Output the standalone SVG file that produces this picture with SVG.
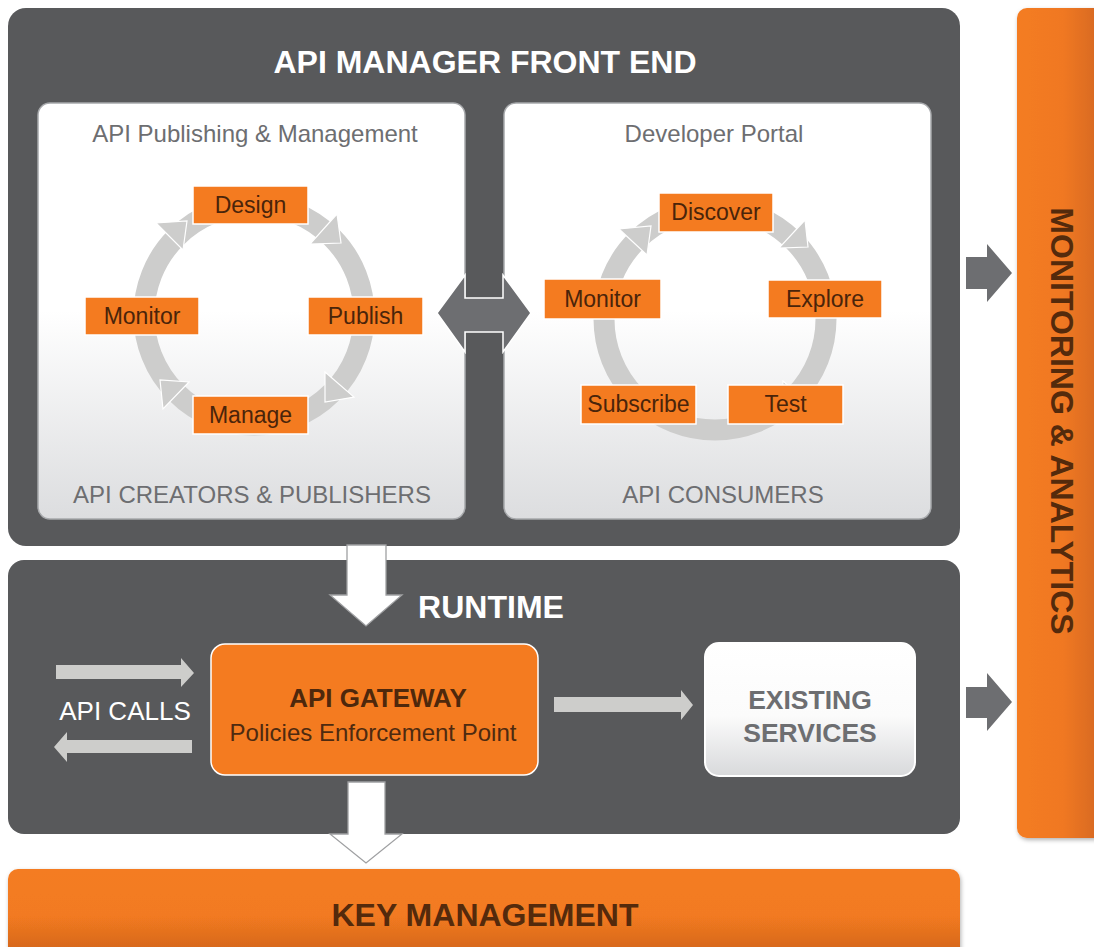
<svg xmlns="http://www.w3.org/2000/svg" width="1094" height="947" viewBox="0 0 1094 947">
<defs>
<style>
.dark{fill:#58595b}
.panel{stroke:#a7a9ac;stroke-width:1.5}
.box{fill:#f47b20;stroke:#ffffff;stroke-width:1.5}
.bt{font-family:"Liberation Sans",Arial,sans-serif;font-size:23px;fill:#4a240a;text-anchor:middle}
.pt{font-family:"Liberation Sans",Arial,sans-serif;font-size:24px;fill:#6d6e71;text-anchor:middle}
.title{font-family:"Liberation Sans",Arial,sans-serif;font-size:32px;font-weight:bold;fill:#ffffff;text-anchor:middle}
.otitle{font-family:"Liberation Sans",Arial,sans-serif;font-size:32px;font-weight:bold;fill:#542a0c;text-anchor:middle}
.ring{fill:none;stroke:#cdcdcc;stroke-width:21}
.ah{fill:#cdcdcc;stroke:#ffffff;stroke-width:1.2}
.garrow{fill:#6d6e71}
.larrow{fill:#cdcdcb}
.warrow{fill:#ffffff;stroke:#9fa0a2;stroke-width:1.3}
</style>
<linearGradient id="pg" x1="0" y1="0" x2="0" y2="1">
<stop offset="0" stop-color="#ffffff"/>
<stop offset="0.5" stop-color="#ffffff"/>
<stop offset="1" stop-color="#dcdddf"/>
</linearGradient>
<linearGradient id="eg" x1="0" y1="0" x2="0" y2="1">
<stop offset="0" stop-color="#ffffff"/>
<stop offset="0.55" stop-color="#fbfbfb"/>
<stop offset="1" stop-color="#d8d9db"/>
</linearGradient>
<linearGradient id="mg" gradientUnits="userSpaceOnUse" x1="1017" y1="0" x2="1094" y2="0">
<stop offset="0" stop-color="#f47c20"/>
<stop offset="0.6" stop-color="#f07821"/>
<stop offset="1" stop-color="#da6b22"/>
</linearGradient>
<linearGradient id="kg" gradientUnits="userSpaceOnUse" x1="0" y1="869" x2="0" y2="947">
<stop offset="0" stop-color="#f47c20"/>
<stop offset="0.6" stop-color="#f27a20"/>
<stop offset="1" stop-color="#d8691e"/>
</linearGradient>
<filter id="sh" x="-5%" y="-5%" width="110%" height="110%">
<feDropShadow dx="1" dy="2" stdDeviation="2" flood-color="#000000" flood-opacity="0.3"/>
</filter>
</defs>

<rect x="0" y="0" width="1094" height="947" fill="#ffffff"/>

<g id="monitoring">
<rect x="1017" y="8" width="100" height="830" rx="10" fill="url(#mg)" filter="url(#sh)"/>
<text class="otitle" transform="translate(1051,421) rotate(90)">MONITORING &amp; ANALYTICS</text>
</g>

<g id="key-management">
<rect x="8" y="869" width="952" height="100" rx="10" fill="url(#kg)" filter="url(#sh)"/>
<text class="otitle" x="485" y="926">KEY MANAGEMENT</text>
</g>

<g id="front-end">
<rect class="dark" x="8" y="8" width="952" height="538" rx="18"/>
<text class="title" x="485" y="73">API MANAGER FRONT END</text>
</g>

<g id="runtime">
<rect class="dark" x="8" y="560" width="952" height="274" rx="16"/>
<text class="title" x="491" y="618">RUNTIME</text>
</g>

<g id="publishing-panel">
<rect class="panel" x="38" y="103" width="427" height="416" rx="12" fill="url(#pg)"/>
<text class="pt" x="255" y="142">API Publishing &amp; Management</text>
<text class="pt" x="252" y="503">API CREATORS &amp; PUBLISHERS</text>
<circle class="ring" cx="254" cy="315" r="110"/>
<polygon class="ah" points="337,214 310,244 341,243"/>
<polygon class="ah" points="325,372 354,397 325,402"/>
<polygon class="ah" points="189,382 163,409 160,380"/>
<polygon class="ah" points="156,223 183,250 187,221"/>
</g>

<g id="portal-panel">
<rect class="panel" x="504" y="103" width="427" height="416" rx="12" fill="url(#pg)"/>
<text class="pt" x="714" y="142">Developer Portal</text>
<text class="pt" x="723" y="503">API CONSUMERS</text>
<circle class="ring" cx="715" cy="319" r="111"/>
<polygon class="ah" points="619,229 647,255 651,226"/>
<polygon class="ah" points="805,220 779,248 808,247"/>
<polygon class="ah" points="783,381 811,406 782,410"/>
</g>

<g id="design"><rect class="box" x="193" y="186" width="115" height="38"/><text class="bt" x="250.5" y="213">Design</text></g>
<g id="publish"><rect class="box" x="308" y="297" width="115" height="38"/><text class="bt" x="365.5" y="324">Publish</text></g>
<g id="manage"><rect class="box" x="193" y="396" width="115" height="38"/><text class="bt" x="250.5" y="423">Manage</text></g>
<g id="monitor-pub"><rect class="box" x="85" y="297" width="114" height="38"/><text class="bt" x="142" y="324">Monitor</text></g>

<g id="discover"><rect class="box" x="659" y="193" width="114" height="39"/><text class="bt" x="716" y="220">Discover</text></g>
<g id="explore"><rect class="box" x="768" y="280" width="114" height="38"/><text class="bt" x="825" y="307">Explore</text></g>
<g id="test"><rect class="box" x="728" y="385" width="115" height="39"/><text class="bt" x="785.5" y="412">Test</text></g>
<g id="subscribe"><rect class="box" x="581" y="385" width="115" height="39"/><text class="bt" x="638.5" y="412">Subscribe</text></g>
<g id="monitor-dev"><rect class="box" x="544" y="279" width="117" height="40"/><text class="bt" x="602.5" y="307">Monitor</text></g>

<g id="api-gateway">
<rect x="211" y="644" width="327" height="131" rx="14" fill="#f47b20" stroke="#ffffff" stroke-width="1.5"/>
<text x="378" y="707" font-family="Liberation Sans, Arial, sans-serif" font-size="26" font-weight="bold" fill="#4e280c" text-anchor="middle">API GATEWAY</text>
<text x="373" y="741" font-family="Liberation Sans, Arial, sans-serif" font-size="24" fill="#4e2a10" text-anchor="middle">Policies Enforcement Point</text>
</g>

<g id="existing-services">
<rect x="705" y="643" width="210" height="133" rx="14" fill="url(#eg)" stroke="#ffffff" stroke-width="2"/>
<text x="810" y="709" font-family="Liberation Sans, Arial, sans-serif" font-size="26.5" font-weight="bold" fill="#6d6e71" text-anchor="middle">EXISTING</text>
<text x="810" y="742" font-family="Liberation Sans, Arial, sans-serif" font-size="26.5" font-weight="bold" fill="#6d6e71" text-anchor="middle">SERVICES</text>
</g>

<g id="api-calls">
<text x="125" y="720" font-family="Liberation Sans, Arial, sans-serif" font-size="26" fill="#ffffff" text-anchor="middle">API CALLS</text>
</g>

<g id="connectors">
<polygon class="garrow" stroke="#ffffff" stroke-width="1.5" points="437,313 465,275 465,298 503,298 503,275 531,313 503,352 503,332 465,332 465,352"/>
<polygon class="warrow" points="347,545 386,545 386,595 402,595 366,626 330,595 347,595"/>
<polygon class="warrow" points="348,782 385,782 385,834 402,834 366,863 330,834 348,834"/>
<polygon class="larrow" points="56,665 181,665 181,658 194,673 181,687 181,679 56,679"/>
<polygon class="larrow" points="192,740 67,740 67,732 54,747 67,762 67,753 192,753"/>
<polygon class="larrow" points="554,697 681,697 681,690 693,705 681,720 681,712 554,712"/>
<polygon class="garrow" points="966,257 987,257 987,244 1012,273 987,302 987,289 966,289"/>
<polygon class="garrow" points="966,687 987,687 987,673 1012,702 987,731 987,718 966,718"/>
</g>
</svg>
